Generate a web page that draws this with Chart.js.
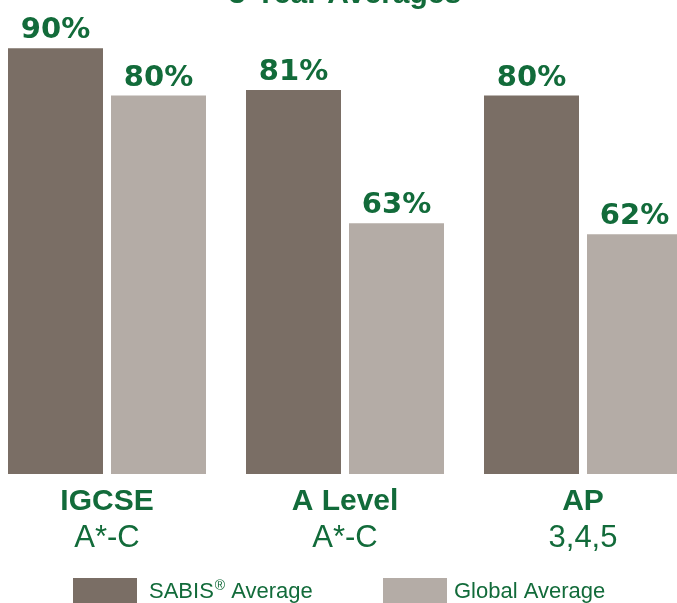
<!DOCTYPE html>
<html>
<head>
<meta charset="utf-8">
<script src="https://cdn.jsdelivr.net/npm/chart.js@4/dist/chart.umd.min.js"></script>
<style>
  html, body { margin: 0; padding: 0; background: #fff; overflow: hidden; }
  body { width: 677px; height: 603px; position: relative; }
  #wrap { position: absolute; left: -12px; top: 0; width: 714px; height: 603px; }
</style>
</head>
<body>
<div id="wrap"><canvas id="c" width="714" height="603"></canvas></div>
<script>
  // Données
  const titleText = "3-Year Averages";
  const categories = ["IGCSE", "A Level", "AP"];
  const subLabels = ["A*-C", "A*-C", "3,4,5"];
  const seriesNames = ["SABIS® Average", "Global Average"];
  // pourcentages affichés au-dessus des barres
  const sabisShown = [90, 81, 80];
  const globalShown = [80, 63, 62];
  // hauteur réelle des barres dans l'image (les barres grises ne suivent pas les étiquettes)
  const sabisBar = [90, 81.2, 80];
  const globalBar = [80, 53, 50.7];

  const GREEN = "#126b3a";
  const DARK = "#7a6e65";
  const LIGHT = "#b4aca6";

  // texte avec le ® en exposant
  function drawLegendText(ctx, text, x, y) {
    const parts = text.split("®");
    const base = "22px 'Liberation Sans', Arial, sans-serif";
    const sup = "14px 'Liberation Sans', Arial, sans-serif";
    ctx.font = base;
    ctx.fillText(parts[0], x, y);
    if (parts.length < 2) return;
    x += ctx.measureText(parts[0]).width + 1;
    ctx.font = sup;
    ctx.fillText("®", x, y - 8);
    x += ctx.measureText("®").width;
    ctx.font = base;
    ctx.fillText(parts[1], x, y);
  }

  // Titre + étiquettes + légende dessinés à la main
  const decorPlugin = {
    id: "decor",
    afterDatasetsDraw(chart) {
      const { ctx, scales } = chart;
      const x = scales.x;
      ctx.save();
      ctx.fillStyle = GREEN;
      ctx.textAlign = "center";
      ctx.textBaseline = "alphabetic";

      // titre (coupé en haut dans l'original)
      ctx.font = "bold 30px 'Liberation Sans', Arial, sans-serif";
      ctx.fillText(titleText, chart.width / 2, 3);

      // valeurs au-dessus des barres
      const shown = [sabisShown, globalShown];
      ctx.font = "bold 29px 'DejaVu Sans', sans-serif";
      chart.data.datasets.forEach((ds, di) => {
        const meta = chart.getDatasetMeta(di);
        meta.data.forEach((bar, i) => {
          ctx.fillText(shown[di][i] + "%", bar.x, bar.y - 10);
        });
      });

      // catégories sous l'axe
      categories.forEach((cat, i) => {
        const px = x.getPixelForValue(i);
        ctx.font = "bold 30px 'Liberation Sans', Arial, sans-serif";
        ctx.fillText(cat, px, 510);
        ctx.font = "31px 'Liberation Sans', Arial, sans-serif";
        ctx.fillText(subLabels[i], px, 547);
      });

      // légende
      const items = [
        { box: 85, text: 161 },
        { box: 395, text: 466 }
      ];
      ctx.textAlign = "left";
      chart.data.datasets.forEach((ds, di) => {
        ctx.fillStyle = ds.backgroundColor;
        ctx.fillRect(items[di].box, 578, 64, 30);
        ctx.fillStyle = GREEN;
        drawLegendText(ctx, ds.label, items[di].text, 598);
      });
      ctx.restore();
    }
  };

  new Chart(document.getElementById("c"), {
    type: "bar",
    data: {
      labels: categories,
      datasets: [
        { label: seriesNames[0], data: sabisBar, backgroundColor: DARK },
        { label: seriesNames[1], data: globalBar, backgroundColor: LIGHT }
      ]
    },
    options: {
      responsive: false,
      animation: false,
      devicePixelRatio: 1,
      layout: { padding: { top: 1, bottom: 129, left: 0, right: 0 } },
      datasets: {
        bar: { categoryPercentage: 206 / 238, barPercentage: 95 / 103 }
      },
      plugins: { legend: { display: false }, tooltip: { enabled: false }, title: { display: false } },
      scales: {
        x: { display: false },
        y: { display: false, min: 0, max: 100 }
      }
    },
    plugins: [decorPlugin]
  });
</script>
</body>
</html>
